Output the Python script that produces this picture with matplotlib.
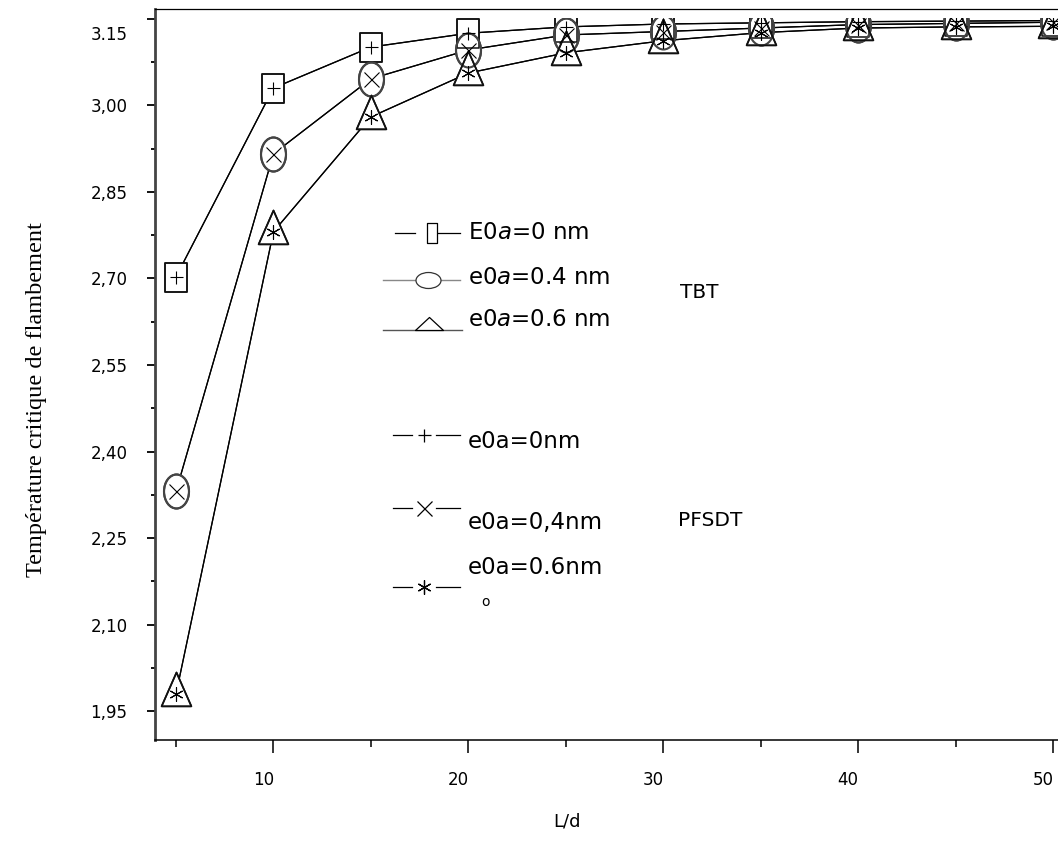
import matplotlib
matplotlib.use('Agg')
import matplotlib.pyplot as plt
import matplotlib.transforms as mtransforms
from matplotlib.path import Path
from matplotlib.patches import Rectangle
import numpy as np

matplotlib.rcParams['font.family'] = 'DejaVu Sans'
matplotlib.rcParams['mathtext.fontset'] = 'custom'
matplotlib.rcParams['mathtext.rm'] = 'DejaVu Sans'
matplotlib.rcParams['mathtext.it'] = 'DejaVu Sans:italic'

# data
ld = [5, 10, 15, 20, 25, 30, 35, 40, 45, 50]

tbt_0 = [2.703, 3.030, 3.101, 3.125, 3.136, 3.141, 3.143, 3.145, 3.146, 3.147]
tbt_04 = [2.331, 2.916, 3.046, 3.096, 3.122, 3.128, 3.134, 3.140, 3.142, 3.144]
tbt_06 = [1.980, 2.781, 2.980, 3.056, 3.091, 3.112, 3.126, 3.134, 3.136, 3.137]

pfsdt_0 = [2.703, 3.030, 3.101, 3.125, 3.136, 3.141, 3.143, 3.145, 3.146, 3.147]
pfsdt_04 = [2.331, 2.916, 3.046, 3.096, 3.122, 3.128, 3.134, 3.140, 3.142, 3.144]
pfsdt_06 = [1.980, 2.781, 2.980, 3.056, 3.091, 3.112, 3.126, 3.134, 3.136, 3.137]

tbt_labels = [r'E0$\mathit{a}$=0 nm', r'e0$\mathit{a}$=0.4 nm', r'e0$\mathit{a}$=0.6 nm']
pfsdt_labels = ['e0a=0nm', 'e0a=0,4nm', 'e0a=0.6nm']

yticks = [1.95, 2.10, 2.25, 2.40, 2.55, 2.70, 2.85, 3.00, 3.15]
ytick_labels = ['1,95', '2,10', '2,25', '2,40', '2,55', '2,70', '2,85', '3,00', '3.15']
xticks = [10, 20, 30, 40, 50]
xtick_labels = ['10', '20', '30', '40', '50']

W, H, DPI = 1058, 841, 100
PT = 72.0 / DPI  # points per pixel


def boxMarker(w):
    return Path([(-w, -1), (w, -1), (w, 1), (-w, 1), (-w, -1)], closed=True)


def ovalMarker(sx, sy):
    c = Path.unit_circle()
    return Path(c.vertices * [sx, sy], c.codes)


def triMarker(w, top, bot):
    return Path([(-w, -bot), (w, -bot), (0, top), (-w, -bot)], closed=True)


def fpos(px, py):
    # pixel position in the picture -> figure fraction
    return px / W, 1 - py / H


fig = plt.figure(figsize=(W / DPI, H / DPI), dpi=DPI)
ax = fig.add_axes([155 / W, (H - 740) / H, (W - 155) / W, (740 - 9) / H])
ax.set_xlim(3.92, 50.26)
ax.set_ylim(1.90, 3.167)

# the data area stops a little under the frame line
clip = Rectangle((0, 0), 1, (740 - 18) / 731, transform=ax.transAxes)

outer = [
    (tbt_0, boxMarker(0.76), 29 * PT, '#111111', 1.1),
    (tbt_04, ovalMarker(0.735, 1), 34 * PT, '#444444', 1.5),
    (tbt_06, triMarker(0.88, 1.3, 0.7), 44 * PT, '#111111', 1.2),
]
inner = [
    (pfsdt_0, '+', 13 * PT),
    (pfsdt_04, 'x', 15 * PT),
    (pfsdt_06, (6, 2, 0), 14 * PT),
]

drawn = []
for ys, m, ms in inner:
    drawn += ax.plot(ld, ys, '-', color='k', lw=0.9, zorder=1)
for ys, m, ms, ec, ew in outer:
    drawn += ax.plot(ld, ys, '-', color='k', lw=0.9, marker=m, ms=ms, mfc='white',
                     mec=ec, mew=ew, zorder=2)
for ys, m, ms, ec, ew in outer:
    drawn += ax.plot(ld, ys, linestyle='none', marker=m, ms=ms, mfc='none',
                     mec=ec, mew=ew, zorder=3)
for ys, m, ms in inner:
    drawn += ax.plot(ld, ys, linestyle='none', marker=m, ms=ms, color='k',
                     mew=0.8, zorder=4)
for d in drawn:
    d.set_clip_path(clip)

ax.set_xticks(xticks)
ax.set_xticklabels(xtick_labels)
ax.set_xticks([5, 15, 25, 35, 45], minor=True)
ax.set_yticks(yticks)
ax.set_yticklabels(ytick_labels)
ax.set_yticks([2.025, 2.175, 2.325, 2.475, 2.625, 2.775, 2.925, 3.075], minor=True)

ax.tick_params(axis='x', which='major', direction='out', length=13 * PT, width=1.1,
               pad=13, labelsize=12)
ax.tick_params(axis='x', which='minor', direction='out', length=7 * PT, width=1.1)
ax.tick_params(axis='y', which='major', direction='out', length=8 * PT, width=1.3,
               pad=14, labelsize=12)
ax.tick_params(axis='y', which='minor', direction='out', length=4 * PT, width=1.3)

ax.spines['right'].set_visible(False)
ax.spines['top'].set_linewidth(0.9)
ax.spines['bottom'].set_linewidth(1.1)
ax.spines['left'].set_linewidth(2.0)
ax.spines['left'].set_color('#444444')

# Origin style label offsets
shift = mtransforms.ScaledTranslation(-10 / DPI, 0, fig.dpi_scale_trans)
for lab in ax.get_xticklabels():
    lab.set_transform(lab.get_transform() + shift)
top_lab = ax.get_yticklabels()[-1]
top_lab.set_transform(top_lab.get_transform() +
                      mtransforms.ScaledTranslation(0, -14 / DPI, fig.dpi_scale_trans))

fig.text(*fpos(567, 822), 'L/d', ha='center', va='center', fontsize=13)
fig.text(*fpos(37, 400), 'Température critique de flambement', rotation=90,
         ha='center', va='center', family='Liberation Serif', fontsize=17.5)


# hand placed legend, as in the original
def seg(x0, x1, y, color='k', lw=0.9):
    (a, b), (c, d) = fpos(x0, y), fpos(x1, y)
    ax.plot([a, c], [b, d], '-', color=color, lw=lw, transform=fig.transFigure,
            clip_on=False)


def key(x, y, m, ms, filled=True, ec='k'):
    fx, fy = fpos(x, y)
    ax.plot([fx], [fy], linestyle='none', marker=m, ms=ms,
            mfc='white' if filled else 'none', mec=ec, mew=0.9,
            transform=fig.transFigure, clip_on=False, zorder=5)


seg(395, 415, 233)
seg(437, 460, 233)
key(432, 233, boxMarker(0.5), 20 * PT)
seg(383, 460, 280, color='#888888', lw=1.0)
key(428, 280, ovalMarker(1, 0.64), 25 * PT, ec='#333333')
seg(383, 462, 330, color='#555555', lw=1.0)
key(429, 330, triMarker(1, 0.93, 0), 28 * PT)

for label, y in zip(tbt_labels, [233, 277, 320]):
    fig.text(*fpos(468, y), label, ha='left', va='center', fontsize=16.5)
fig.text(*fpos(680, 293), 'TBT', ha='left', va='center', fontsize=14.5)

for y, m, ms in [(435, '+', 13 * PT), (508, 'x', 15 * PT), (587, (6, 2, 0), 14 * PT)]:
    seg(393, 412, y)
    seg(436, 460, y)
    key(424, y, m, ms, filled=False)

for label, y in zip(pfsdt_labels, [442, 523, 567]):
    fig.text(*fpos(468, y), label, ha='left', va='center', fontsize=16.5)
fig.text(*fpos(486, 602), 'o', ha='center', va='center', fontsize=10)
fig.text(*fpos(678, 521), 'PFSDT', ha='left', va='center', fontsize=14.5)

fig.savefig('out.png', dpi=DPI)
